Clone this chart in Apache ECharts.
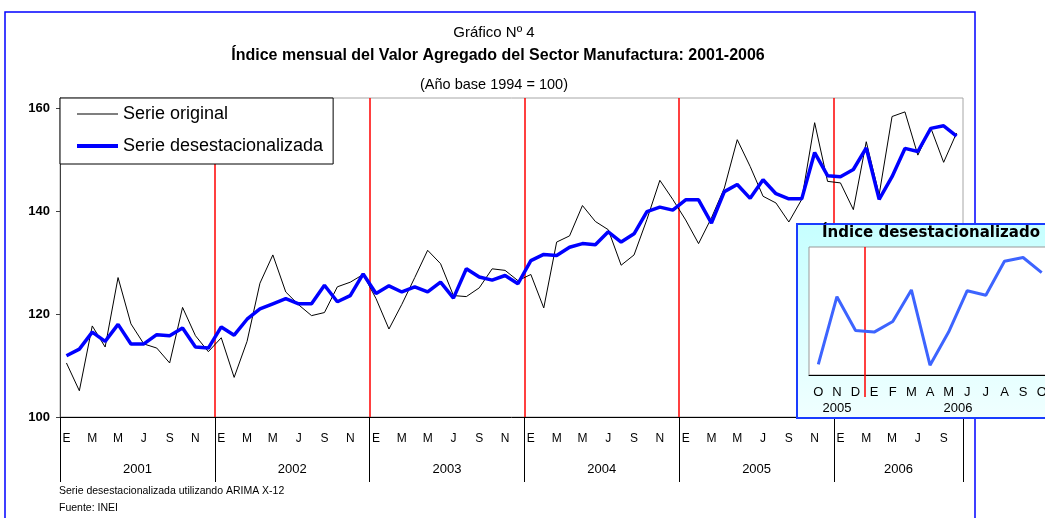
<!DOCTYPE html>
<html>
<head>
<meta charset="utf-8">
<title>Índice mensual del Valor Agregado del Sector Manufactura</title>
<script src="https://cdn.jsdelivr.net/npm/echarts@6.0.0/dist/echarts.min.js"></script>
<style>
  html, body { margin: 0; padding: 0; background: #fff; }
  #chart { width: 1045px; height: 518px; }
</style>
</head>
<body>
<div id="chart"></div>
<script>
// datos: enero 2001 - octubre 2006
const years = ['2001', '2002', '2003', '2004', '2005', '2006']
const monthLetters = ['E', 'F', 'M', 'A', 'M', 'J', 'J', 'A', 'S', 'O', 'N', 'D']

const serieOriginal = [
  110.5, 105.1, 117.7, 113.6, 127.1, 118.1, 114.2, 113.4, 110.5, 121.3, 115.8, 112.7,
  115.4, 107.7, 114.7, 126.0, 131.5, 124.3, 121.8, 119.7, 120.3, 125.3, 126.2, 127.7,
  123.0, 117.1, 121.9, 127.1, 132.4, 129.8, 123.6, 123.4, 125.1, 128.8, 128.5, 126.5,
  127.7, 121.2, 134.0, 135.2, 141.1, 138.0, 136.4, 129.5, 131.5, 138.4, 146.0, 142.3,
  138.3, 133.7, 138.7, 144.5, 153.9, 148.7, 142.9, 141.6, 137.9, 142.3, 157.2, 145.8,
  145.5, 140.3, 153.5, 143.2, 158.4, 159.3, 150.9, 156.2, 149.5, 155.2,
]
const serieDesest = [
  111.9, 113.2, 116.5, 114.7, 118.0, 114.2, 114.2, 116.0, 115.8, 117.3, 113.6, 113.4,
  117.5, 115.9, 119.0, 121.0, 122.0, 123.0, 122.0, 122.0, 125.6, 122.4, 123.6, 127.8,
  124.0, 125.5, 124.3, 125.3, 124.3, 126.2, 123.1, 128.8, 127.2, 126.6, 127.5, 125.9,
  130.4, 131.6, 131.4, 133.0, 133.7, 133.5, 136.0, 134.0, 135.6, 139.9, 140.8, 140.2,
  142.2, 142.2, 137.7, 143.8, 145.2, 142.5, 146.1, 143.4, 142.4, 142.4, 151.4, 146.9,
  146.7, 148.1, 152.3, 142.3, 146.7, 152.2, 151.6, 156.1, 156.6, 154.6,
]
const yTicks = [100, 120, 140, 160]

// recuadro: octubre 2005 - octubre 2006
const insetStart = 57
const insetLabels = ['O', 'N', 'D', 'E', 'F', 'M', 'A', 'M', 'J', 'J', 'A', 'S', 'O']
const insetYears = ['2005', '2006']

const FONT = 'Liberation Sans, Arial, sans-serif'

let categories = serieOriginal.map((v, i) => monthLetters[i % 12] + '-' + years[Math.floor(i / 12)])
let nMonths = serieOriginal.length
// limites de cada año y centro de cada año (en meses)
let yearBounds = []
let yearCenters = []
years.forEach((y, k) => {
  let start = k * 12
  let end = Math.min(start + 12, nMonths)
  yearBounds.push(start)
  yearCenters.push((start + end) / 2)
})
yearBounds.push(nMonths)

let insetData = serieDesest.slice(insetStart)
let insetN = insetData.length
let insetYearBreak = 12 - (insetStart % 12) // enero 2006
let insetYearCenters = [insetYearBreak / 2, (insetYearBreak + insetN) / 2]

let myChart = echarts.init(document.getElementById('chart'))
myChart.setOption({
  animation: false,
  backgroundColor: '#fff',
  textStyle: { fontFamily: FONT },
  title: [
    { text: 'Gráfico Nº 4', left: 494, top: 25, textAlign: 'center', padding: 0,
      textStyle: { fontSize: 15, fontWeight: 'normal', color: '#000', fontFamily: FONT } },
    { text: 'Índice mensual del Valor Agregado del Sector Manufactura: 2001-2006', left: 498, top: 48, textAlign: 'center', padding: 0,
      textStyle: { fontSize: 16, fontWeight: 'bold', color: '#000', fontFamily: FONT } },
    { text: '(Año base 1994 = 100)', left: 494, top: 77, textAlign: 'center', padding: 0,
      textStyle: { fontSize: 14.5, fontWeight: 'normal', color: '#000', fontFamily: FONT } },
    { text: 'Serie desestacionalizada utilizando ARIMA X-12', left: 59, top: 486, padding: 0,
      textStyle: { fontSize: 10.5, fontWeight: 'normal', color: '#000', fontFamily: FONT } },
    { text: 'Fuente: INEI', left: 59, top: 503, padding: 0,
      textStyle: { fontSize: 10.5, fontWeight: 'normal', color: '#000', fontFamily: FONT } },
    { text: 'Índice desestacionalizado', left: 931, top: 226, textAlign: 'center', padding: 0, z: 12,
      textStyle: { fontSize: 15, fontWeight: 'bold', color: '#000', fontFamily: 'DejaVu Sans, sans-serif' } },
  ],
  legend: {
    data: [
      { name: 'Serie original', icon: 'path://M0,0H41V1H0Z' },
      { name: 'Serie desestacionalizada', icon: 'path://M0,0H41V4H0Z' },
    ],
    orient: 'vertical',
    left: 60,
    top: 98,
    padding: [7, 10, 9, 17],
    itemWidth: 41,
    itemHeight: 14,
    itemGap: 14,
    symbolKeepAspect: true,
    backgroundColor: '#fff',
    borderColor: '#000',
    borderWidth: 1,
    borderRadius: 0,
    textStyle: { fontSize: 18, color: '#000', fontFamily: FONT },
  },
  graphic: [
    {
      type: 'rect', z: 1, silent: true,
      shape: { x: 5, y: 12, width: 970, height: 520 },
      style: { fill: 'none', stroke: '#0000ff', lineWidth: 1.5 },
    },
    {
      type: 'rect', z: 10, silent: true,
      shape: { x: 797, y: 224, width: 262, height: 194 },
      style: {
        fill: new echarts.graphic.LinearGradient(0, 0, 0, 1, [
          { offset: 0, color: '#c6ffff' },
          { offset: 1, color: '#f0ffff' },
        ]),
        stroke: '#1a3cff',
        lineWidth: 2,
      },
    },
  ],
  grid: [
    { left: 60, top: 98, width: 903, height: 319, show: true, backgroundColor: '#fff',
      borderColor: '#a6a6a6', borderWidth: 1, outerBoundsMode: 'none' },
    { left: 809, top: 247, width: 242, height: 128, show: true, backgroundColor: '#fff',
      borderColor: '#999', borderWidth: 1, z: 11, outerBoundsMode: 'none' },
  ],
  xAxis: [
    {
      type: 'category', gridIndex: 0, position: 'bottom', data: categories, boundaryGap: true,
      axisLine: { lineStyle: { color: '#000', width: 1 } },
      axisTick: { inside: true, length: 4, interval: 5, lineStyle: { color: '#000' } },
      axisLabel: { interval: 1, margin: 16, fontSize: 12, color: '#000', fontFamily: FONT,
        formatter: (v) => v.split('-')[0] },
      splitLine: { show: false },
    },
    {
      // años: marcas largas bajo el eje y líneas rojas divisorias
      type: 'value', gridIndex: 0, position: 'bottom', min: 0, max: nMonths,
      axisLine: { show: false },
      axisTick: { show: true, customValues: yearBounds, length: 65, inside: false, lineStyle: { color: '#000' } },
      axisLabel: { customValues: yearCenters, margin: 46, fontSize: 13, color: '#000', fontFamily: FONT,
        formatter: (v) => years[yearCenters.indexOf(v)] },
      splitLine: { show: true, showMinLine: false, showMaxLine: false, lineStyle: { color: '#ff0000', width: 1.5 } },
    },
    {
      type: 'category', gridIndex: 1, position: 'bottom', data: insetLabels.map((m, i) => m + i), boundaryGap: true, z: 12,
      axisLine: { lineStyle: { color: '#000', width: 1 } },
      axisTick: { inside: false, length: 5, interval: 0, lineStyle: { color: '#000' } },
      axisLabel: { interval: 0, margin: 11, fontSize: 13, color: '#000', fontFamily: FONT,
        formatter: (v) => v.replace(/\d+/, '') },
      splitLine: { show: false },
    },
    {
      type: 'value', gridIndex: 1, position: 'bottom', min: 0, max: insetN, z: 12,
      axisLine: { show: false },
      axisTick: { show: true, customValues: [insetYearBreak], length: 22, inside: false, lineStyle: { color: '#ff0000', width: 1.5 } },
      axisLabel: { customValues: insetYearCenters, margin: 27, fontSize: 13, color: '#000', fontFamily: FONT,
        formatter: (v) => insetYears[insetYearCenters.indexOf(v)] },
      splitLine: { show: true, lineStyle: { color: '#ff0000', width: 1.5 } },
    },
  ],
  yAxis: [
    {
      type: 'value', gridIndex: 0, min: 100, max: 162, interval: 20,
      axisLine: { show: true, lineStyle: { color: '#404040' } },
      axisTick: { show: true, customValues: yTicks, length: 4, lineStyle: { color: '#404040' } },
      axisLabel: { customValues: yTicks, margin: 10, fontSize: 13, fontWeight: 'bold', color: '#000', fontFamily: FONT },
      splitLine: { show: false },
    },
    {
      type: 'value', gridIndex: 1, min: 141, max: 158, show: false,
      splitLine: { show: false },
    },
  ],
  series: [
    {
      name: 'Serie original',
      type: 'line',
      xAxisIndex: 0,
      yAxisIndex: 0,
      data: serieOriginal,
      symbol: 'none',
      z: 3,
      lineStyle: { color: '#000', width: 1 },
      itemStyle: { color: '#000' },
    },
    {
      name: 'Serie desestacionalizada',
      type: 'line',
      xAxisIndex: 0,
      yAxisIndex: 0,
      data: serieDesest,
      symbol: 'none',
      z: 4,
      lineStyle: { color: '#0000ff', width: 3.5 },
      itemStyle: { color: '#0000ff' },
    },
    {
      name: 'Índice desestacionalizado',
      type: 'line',
      xAxisIndex: 2,
      yAxisIndex: 1,
      data: insetData,
      symbol: 'none',
      z: 14,
      lineStyle: { color: '#3d64ff', width: 3 },
      itemStyle: { color: '#3d64ff' },
    },
  ],
})
</script>
</body>
</html>
